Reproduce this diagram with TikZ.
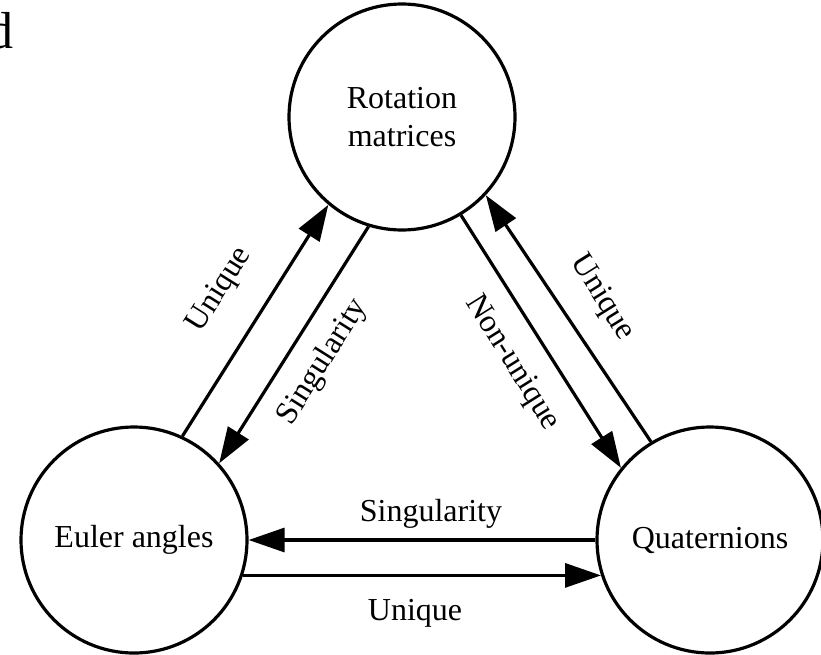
\documentclass[tikz,border=0pt]{standalone}
\usepackage{fontspec}
\setmainfont{Liberation Serif}
\usetikzlibrary{arrows.meta}
\begin{document}
\begin{tikzpicture}[x=1pt,y=-1pt,
  state/.style={circle,draw,line width=3.2pt,minimum size=226pt,inner sep=0pt,
    font=\fontsize{32}{38.4}\selectfont,align=center},
  conn/.style={line width=3.2pt,-{Triangle[length=36pt,width=24pt]}},
  lbl/.style={font=\fontsize{32}{38.4}\selectfont,inner sep=0pt}]
\useasboundingbox (0,0) rectangle (821,654);
\node[state] (R) at (402,117) {Rotation\\matrices};
\node[state] (E) at (134,540) {Euler angles};
\node[state] (Q) at (710,540) {Quaternions};
\node[anchor=base east,inner sep=0pt,font=\fontsize{52}{60}\selectfont] (d) at (14,48) {d};
% Euler <-> Rotation
\draw[conn] (E.65) -- (R.230);
\draw[conn] (R.253) -- (E.42.5);
% Rotation <-> Quaternions
\draw[conn] (R.301.5) -- (Q.141.3);
\draw[conn] (Q.121.7) -- (R.317.7);
% Quaternions <-> Euler
\draw[conn] (Q.180) -- (E.0);
\draw[conn] (E.-18.8) -- (Q.198.8);
% labels
\node[lbl,rotate=57.8] (l1) at (220,290) {Unique};
\node[lbl,rotate=57.8] (l2) at (323,362) {Singularity};
\node[lbl,rotate=-58] (l3) at (512,363) {Non-unique};
\node[lbl,rotate=-58] (l4) at (602,298) {Unique};
\node[lbl,anchor=base] (l5) at (431,521) {Singularity};
\node[lbl,anchor=base] (l6) at (415,620) {Unique};
\end{tikzpicture}
\end{document}
